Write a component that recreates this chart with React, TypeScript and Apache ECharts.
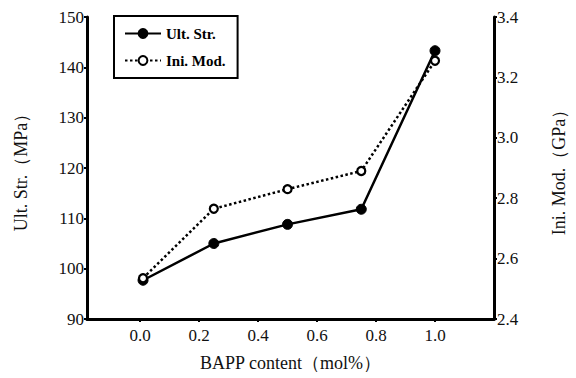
import React, { useEffect, useRef } from "react";
import * as echarts from "echarts";

const contentX = [0.01, 0.25, 0.5, 0.75, 1.0];
const ultStr = [97.7, 105.0, 108.8, 111.8, 143.3];
const iniMod = [2.535, 2.765, 2.83, 2.89, 3.255];
const xTicks = [0, 0.2, 0.4, 0.6, 0.8, 1.0];

const FONT = "Liberation Serif";

export default function App() {
  const ref = useRef<HTMLDivElement>(null);
  useEffect(() => {
    if (!ref.current) return;
    const chart = echarts.init(ref.current, undefined, { renderer: "svg" });
    const axisLine = { show: true, onZero: false, lineStyle: { color: "#000", width: 3 } };
    const axisTick = { show: true, length: 3, inside: false, lineStyle: { color: "#000", width: 2 } };
    const axisLabelBase = { color: "#111", fontFamily: FONT, fontSize: 17 };
    const nameStyle = { fontFamily: FONT, fontSize: 18, color: "#111" };
    chart.setOption({
      animation: false,
      backgroundColor: "#fff",
      grid: { left: 87, right: 76, top: 17, bottom: 59 },
      legend: {
        orient: "vertical",
        left: 114,
        top: 16,
        padding: [10, 12, 10, 10],
        itemGap: 12,
        itemWidth: 36,
        itemHeight: 11,
        borderColor: "#000",
        borderWidth: 2,
        textStyle: { fontFamily: FONT, fontWeight: "bold", fontSize: 15, color: "#000" },
        data: ["Ult. Str.", "Ini. Mod."],
      },
      xAxis: {
        type: "value",
        min: -0.18,
        max: 1.2,
        name: "BAPP content（mol%）",
        nameLocation: "middle",
        nameGap: 35,
        nameTextStyle: nameStyle,
        axisLine,
        axisTick: { ...axisTick, customValues: xTicks },
        axisLabel: {
          ...axisLabelBase,
          margin: 8,
          customValues: xTicks,
          formatter: (v: number) => v.toFixed(1),
        },
        splitLine: { show: false },
      },
      yAxis: [
        {
          type: "value",
          min: 90,
          max: 150,
          interval: 10,
          name: "Ult. Str.（MPa）",
          nameLocation: "middle",
          nameGap: 57,
          nameRotate: 90,
          nameTextStyle: nameStyle,
          axisLine,
          axisTick,
          axisLabel: { ...axisLabelBase, margin: 3 },
          splitLine: { show: false },
        },
        {
          type: "value",
          min: 2.4,
          max: 3.4,
          interval: 0.2,
          position: "right",
          name: "Ini. Mod.（GPa）",
          nameLocation: "middle",
          nameGap: 56,
          nameRotate: 90,
          nameTextStyle: nameStyle,
          axisLine,
          axisTick,
          axisLabel: { ...axisLabelBase, margin: 3, formatter: (v: number) => v.toFixed(1) },
          splitLine: { show: false },
        },
      ],
      series: [
        {
          name: "Ult. Str.",
          type: "line",
          yAxisIndex: 0,
          data: contentX.map((x, i) => [x, ultStr[i]]),
          symbol: "circle",
          symbolSize: 10,
          lineStyle: { color: "#000", width: 2.5, type: "solid" },
          itemStyle: { color: "#000", borderColor: "#000", borderWidth: 1 },
          z: 3,
        },
        {
          name: "Ini. Mod.",
          type: "line",
          yAxisIndex: 1,
          data: contentX.map((x, i) => [x, iniMod[i]]),
          symbol: "circle",
          symbolSize: 8,
          showSymbol: true,
          lineStyle: { color: "#000", width: 2.5, type: [2.5, 2.5] },
          itemStyle: { color: "#fff", borderColor: "#000", borderWidth: 2.2 },
          z: 4,
        },
      ],
    });
    return () => chart.dispose();
  }, []);
  return <div ref={ref} style={{ width: 576, height: 378, position: "absolute", left: 0, top: 0 }} />;
}
